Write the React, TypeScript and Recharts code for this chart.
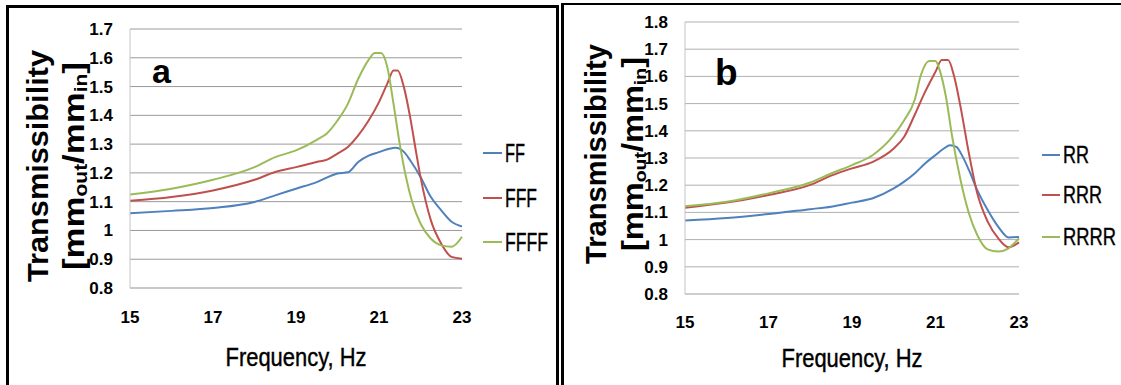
import React from "react";
import { LineChart, Line, XAxis, YAxis, CartesianGrid } from "recharts";

const FONT = "'Liberation Sans Narrow', 'Liberation Sans', Arial, sans-serif";
const BLUE = "#4F81BD";
const RED = "#C0504D";
const GREEN = "#9BBB59";

const X_TICKS = [15, 17, 19, 21, 23];
const Y_TICKS_A = [0.8, 0.9, 1, 1.1, 1.2, 1.3, 1.4, 1.5, 1.6, 1.7];
const Y_TICKS_B = [0.8, 0.9, 1, 1.1, 1.2, 1.3, 1.4, 1.5, 1.6, 1.7, 1.8];

// panel a
const FF_FREQ = [15, 16, 17, 18, 18.5, 19, 19.5, 20, 20.25, 20.5, 20.75, 21, 21.25, 21.4, 21.6, 21.75, 22, 22.25, 22.5, 22.75, 23];
const FF_T = [1.06, 1.068, 1.078, 1.099, 1.122, 1.145, 1.168, 1.198, 1.202, 1.238, 1.26, 1.272, 1.284, 1.287, 1.273, 1.244, 1.186, 1.116, 1.07, 1.03, 1.014];

const FFF_FREQ = [15, 16, 17, 18, 18.5, 19, 19.5, 19.75, 20, 20.25, 20.5, 20.75, 21, 21.2, 21.35, 21.45, 21.6, 21.75, 21.9, 22, 22.25, 22.5, 22.75, 23];
const FFF_T = [1.103, 1.116, 1.139, 1.176, 1.203, 1.22, 1.238, 1.246, 1.267, 1.29, 1.33, 1.382, 1.446, 1.51, 1.556, 1.556, 1.498, 1.394, 1.267, 1.186, 1.035, 0.954, 0.908, 0.902];

const FFFF_FREQ = [15, 16, 17, 18, 18.5, 19, 19.5, 19.75, 20, 20.25, 20.5, 20.75, 20.9, 21.05, 21.2, 21.35, 21.5, 21.65, 21.8, 22, 22.25, 22.5, 22.75, 23];
const FFFF_T = [1.125, 1.145, 1.176, 1.22, 1.255, 1.278, 1.315, 1.338, 1.382, 1.44, 1.527, 1.593, 1.617, 1.617, 1.568, 1.44, 1.3, 1.186, 1.099, 1.024, 0.971, 0.948, 0.943, 0.978];

// panel b
const RR_FREQ = [15, 16, 17, 18, 18.5, 19, 19.5, 20, 20.25, 20.5, 20.75, 21, 21.2, 21.35, 21.5, 21.65, 21.8, 22, 22.25, 22.5, 22.75, 23];
const RR_T = [1.07, 1.079, 1.094, 1.112, 1.121, 1.136, 1.152, 1.188, 1.213, 1.243, 1.28, 1.311, 1.335, 1.347, 1.341, 1.305, 1.256, 1.182, 1.109, 1.048, 1.008, 1.01];

const RRR_FREQ = [15, 16, 17, 18, 18.5, 19, 19.5, 20, 20.25, 20.5, 20.75, 21, 21.15, 21.3, 21.45, 21.6, 21.8, 22, 22.25, 22.5, 22.75, 23];
const RRR_T = [1.117, 1.136, 1.164, 1.201, 1.235, 1.262, 1.286, 1.335, 1.378, 1.458, 1.543, 1.617, 1.66, 1.66, 1.598, 1.488, 1.317, 1.17, 1.066, 1.005, 0.972, 0.99];

const RRRR_FREQ = [15, 16, 17, 18, 18.5, 19, 19.5, 20, 20.25, 20.5, 20.65, 20.85, 21, 21.1, 21.25, 21.4, 21.6, 21.8, 22, 22.25, 22.5, 22.75, 23];
const RRRR_T = [1.123, 1.139, 1.17, 1.21, 1.243, 1.274, 1.311, 1.384, 1.439, 1.513, 1.605, 1.657, 1.657, 1.623, 1.525, 1.378, 1.219, 1.097, 1.017, 0.964, 0.956, 0.968, 1.005];

const toPoints = (f: number[], t: number[]) => f.map((x, i) => ({ f: x, t: t[i] }));
const fmt = (v: number) => String(Number(v.toFixed(1)));

const tickStyle = { fontSize: 17, fontWeight: 700, fill: "#000", fontFamily: FONT };

function YTitle({ x1, x2, cy, len1, len2, size }: any) {
  return (
    <g fontFamily={FONT} fontWeight={700} fill="#000">
      <text x={x1} y={cy} fontSize={size} textAnchor="middle" dominantBaseline="central"
        textLength={len1} lengthAdjust="spacingAndGlyphs" transform={`rotate(-90, ${x1}, ${cy})`}>
        Transmissibility
      </text>
      <text x={x2} y={cy} fontSize={size} textAnchor="middle" dominantBaseline="central"
        textLength={len2} lengthAdjust="spacingAndGlyphs" transform={`rotate(-90, ${x2}, ${cy})`}>
        [mm<tspan fontSize={size * 0.6} dy={size * 0.25}>out</tspan>
        <tspan dy={-size * 0.25}>/mm</tspan>
        <tspan fontSize={size * 0.6} dy={size * 0.25}>in</tspan>
        <tspan dy={-size * 0.25}>]</tspan>
      </text>
    </g>
  );
}

function XTitle({ cx, cy, len }: any) {
  return (
    <text x={cx} y={cy} fontSize={25} fontFamily={FONT} textAnchor="middle" dominantBaseline="central"
      textLength={len} lengthAdjust="spacingAndGlyphs" fill="#000" stroke="#000" strokeWidth={0.4}>
      Frequency, Hz
    </text>
  );
}

function LegendBox({ items, x, ys, lineLen, size }: any) {
  return (
    <g fontFamily={FONT} fill="#000">
      {items.map((it: any, i: number) => (
        <g key={it.name}>
          <line x1={x} x2={x + lineLen} y1={ys[i]} y2={ys[i]} stroke={it.color} strokeWidth={2} />
          <text x={x + lineLen + 3} y={ys[i]} fontSize={size} dominantBaseline="central"
            textLength={it.len} lengthAdjust="spacingAndGlyphs" stroke="#000" strokeWidth={0.4}>{it.name}</text>
        </g>
      ))}
    </g>
  );
}

function PanelA() {
  return (
    <div style={{ position: "absolute", left: 0, top: 0 }}>
      <LineChart width={560} height={385} margin={{ top: 29, right: 98, bottom: 0, left: 0 }}>
        <CartesianGrid horizontal vertical={false} stroke="#9a9a9a" />
        <XAxis dataKey="f" type="number" domain={[15, 23]} ticks={X_TICKS} height={97}
          tick={tickStyle} tickLine={false} tickSize={0} tickMargin={23} stroke="#c4c4c4"
          label={{ content: () => <XTitle cx={296} cy={357} len={141} /> }} />
        <YAxis type="number" domain={[0.8, 1.7]} ticks={Y_TICKS_A} width={130} tickFormatter={fmt}
          tick={tickStyle} tickLine={false} tickSize={0} tickMargin={17} stroke="#c4c4c4"
          label={{ content: () => <YTitle x1={37} x2={73} cy={166} len1={232} len2={208} size={30} /> }} />
        <Line data={toPoints(FF_FREQ, FF_T)} dataKey="t" type="monotone" stroke={BLUE} strokeWidth={2} dot={false} isAnimationActive={false} />
        <Line data={toPoints(FFF_FREQ, FFF_T)} dataKey="t" type="monotone" stroke={RED} strokeWidth={2} dot={false} isAnimationActive={false} />
        <Line data={toPoints(FFFF_FREQ, FFFF_T)} dataKey="t" type="monotone" stroke={GREEN} strokeWidth={2} dot={false} isAnimationActive={false} />
      </LineChart>
      <svg width={560} height={385} style={{ position: "absolute", left: 0, top: 0, pointerEvents: "none" }}>
        <LegendBox x={483} ys={[153, 198, 242]} lineLen={19} size={25}
          items={[
            { name: "FF", color: BLUE, len: 20 },
            { name: "FFF", color: RED, len: 32 },
            { name: "FFFF", color: GREEN, len: 43 },
          ]} />
        <text x={152} y={83} fontSize={34} fontWeight={700} fontFamily={FONT}>a</text>
      </svg>
      <div style={{ position: "absolute", left: 6, top: 5, width: 547, height: 400, border: "3px solid #000" }} />
    </div>
  );
}

function PanelB() {
  return (
    <div style={{ position: "absolute", left: 560, top: 0 }}>
      <LineChart width={561} height={385} margin={{ top: 22, right: 102, bottom: 0, left: 0 }}>
        <CartesianGrid horizontal vertical={false} stroke="#b0b0b0" />
        <XAxis dataKey="f" type="number" domain={[15, 23]} ticks={X_TICKS} height={91}
          tick={tickStyle} tickLine={false} tickSize={0} tickMargin={22} stroke="#c4c4c4"
          label={{ content: () => <XTitle cx={292} cy={358} len={141} /> }} />
        <YAxis type="number" domain={[0.8, 1.8]} ticks={Y_TICKS_B} width={125} tickFormatter={fmt}
          tick={tickStyle} tickLine={false} tickSize={0} tickMargin={17} stroke="#c4c4c4"
          label={{ content: () => <YTitle x1={36} x2={73} cy={154} len1={220} len2={194} size={29} /> }} />
        <Line data={toPoints(RR_FREQ, RR_T)} dataKey="t" type="monotone" stroke={BLUE} strokeWidth={2} dot={false} isAnimationActive={false} />
        <Line data={toPoints(RRR_FREQ, RRR_T)} dataKey="t" type="monotone" stroke={RED} strokeWidth={2} dot={false} isAnimationActive={false} />
        <Line data={toPoints(RRRR_FREQ, RRRR_T)} dataKey="t" type="monotone" stroke={GREEN} strokeWidth={2} dot={false} isAnimationActive={false} />
      </LineChart>
      <svg width={561} height={385} style={{ position: "absolute", left: 0, top: 0, pointerEvents: "none" }}>
        <LegendBox x={482} ys={[155, 195, 237]} lineLen={18} size={23}
          items={[
            { name: "RR", color: BLUE, len: 26 },
            { name: "RRR", color: RED, len: 39 },
            { name: "RRRR", color: GREEN, len: 53 },
          ]} />
        <text x={155} y={85} fontSize={37} fontWeight={700} fontFamily={FONT}>b</text>
      </svg>
      <div style={{ position: "absolute", left: 1, top: 3, width: 600, height: 400, border: "3px solid #000", borderTopWidth: 2 }} />
    </div>
  );
}

export default function App() {
  return (
    <div style={{ position: "absolute", left: 0, top: 0, width: 1121, height: 385, overflow: "hidden", background: "#fff" }}>
      <PanelA />
      <PanelB />
    </div>
  );
}
